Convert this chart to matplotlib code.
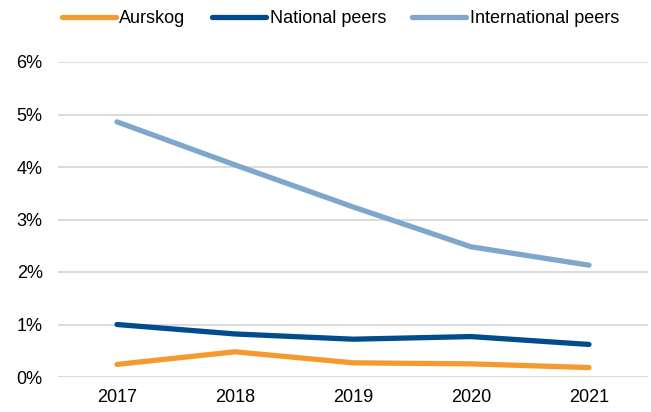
import matplotlib
matplotlib.use("Agg")
import matplotlib.pyplot as plt
from matplotlib.ticker import FuncFormatter

plt.rcParams['font.family'] = ['Liberation Sans', 'DejaVu Sans']

years = ["2017", "2018", "2019", "2020", "2021"]
aurskog = [0.24, 0.48, 0.27, 0.25, 0.18]
national = [1.00, 0.82, 0.72, 0.77, 0.62]
international = [4.86, 4.04, 3.24, 2.48, 2.13]

fig = plt.figure(figsize=(6.51, 4.12), dpi=100)
ax = fig.add_axes([58/651, 1-377/412, 590/651, 315/412])

x = range(len(years))
ax.plot(x, aurskog, color="#F59A2F", lw=3.8, solid_capstyle="round", label="Aurskog")
ax.plot(x, national, color="#004C8C", lw=3.8, solid_capstyle="round", label="National peers")
ax.plot(x, international, color="#7FA7CB", lw=3.8, solid_capstyle="round", label="International peers")

ax.set_xlim(-0.5, 4.5)
ax.set_ylim(0, 6)
ax.set_yticks([0, 1, 2, 3, 4, 5, 6])
ax.yaxis.set_major_formatter(FuncFormatter(lambda v, p: f"{v:.0f}%"))
ax.set_xticks(list(x))
ax.set_xticklabels(years)
ax.grid(axis="y", color="#D9D9D9", lw=1.3)
ax.set_axisbelow(True)
for s in ax.spines.values():
    s.set_visible(False)
ax.tick_params(length=0, labelsize=13, colors="#000000")
ax.tick_params(axis="x", pad=9)
ax.tick_params(axis="y", pad=11)

fig.legend(loc="upper center", bbox_to_anchor=(0.523, 1.015), ncol=3, frameon=False,
           fontsize=13, handlelength=3.0, handletextpad=0.2, columnspacing=1.45)

fig.savefig("out.png", dpi=100)
